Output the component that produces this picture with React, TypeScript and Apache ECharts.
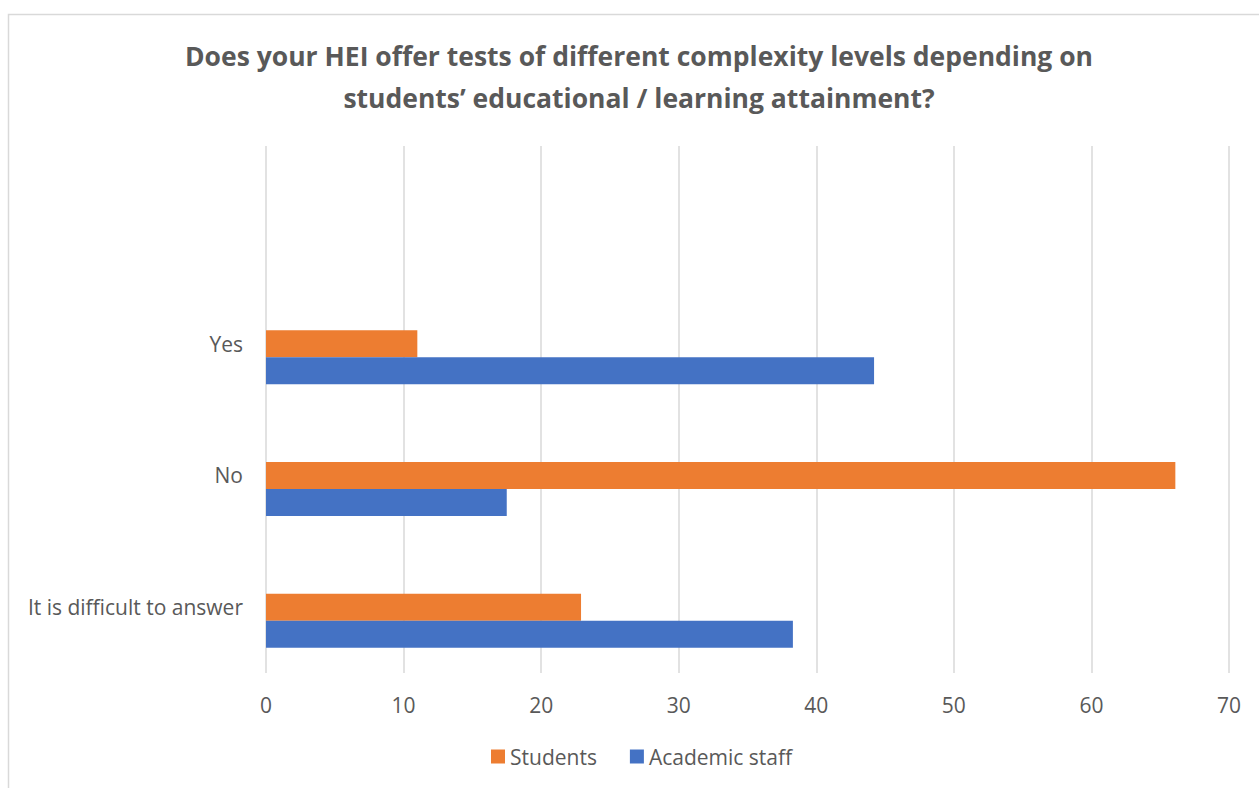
import React, { useEffect, useRef } from "react";
import * as echarts from "echarts";

const categories = ["It is difficult to answer", "No", "Yes", ""];
const students = [22.9, 66.1, 11.0, null];
const academicStaff = [38.3, 17.5, 44.2, null];
const blank = [null, null, null, null];
const xTicks = { min: 0, max: 70, interval: 10 };
const titleText =
  "Does your HEI offer tests of different complexity levels depending on\nstudents’ educational / learning attainment?";

const FONT = "'Open Sans', 'Liberation Sans', sans-serif";
const GREY = "#595959";

export default function App() {
  const ref = useRef<HTMLDivElement>(null);
  useEffect(() => {
    if (!ref.current) return;
    const chart = echarts.init(ref.current, undefined, { renderer: "svg" });
    chart.setOption({
      animation: false,
      backgroundColor: "#ffffff",
      textStyle: { fontFamily: FONT },
      graphic: [
        {
          type: "rect",
          shape: { x: 8.5, y: 14.5, width: 1300, height: 900 },
          style: { fill: "none", stroke: "#d9d9d9", lineWidth: 1.5 },
          silent: true,
        },
        {
          type: "text",
          x: 639,
          y: 35,
          silent: true,
          style: {
            text: titleText,
            fill: GREY,
            fontFamily: FONT,
            fontSize: 26.5,
            fontWeight: "bold",
            lineHeight: 42,
            align: "center",
            verticalAlign: "top",
          },
        },
      ],
      legend: {
        data: ["Students", "Academic staff"],
        left: 486,
        top: 741,
        icon: "rect",
        itemWidth: 14,
        itemHeight: 14,
        itemGap: 33,
        textStyle: { fontFamily: FONT, fontSize: 21, color: GREY },
      },
      grid: { left: 266, right: 30, top: 146, bottom: 115, containLabel: false },
      xAxis: {
        type: "value",
        min: xTicks.min,
        max: xTicks.max,
        interval: xTicks.interval,
        axisLine: { show: false },
        axisTick: { show: false },
        splitLine: { lineStyle: { color: "#d9d9d9", width: 1.5 } },
        axisLabel: { color: GREY, fontSize: 21, fontFamily: FONT, margin: 21 },
      },
      yAxis: {
        type: "category",
        data: categories,
        axisLine: { show: false },
        axisTick: { show: false },
        splitLine: { show: false },
        axisLabel: { color: GREY, fontSize: 21, fontFamily: FONT, margin: 23 },
      },
      series: [
        {
          name: "blank",
          type: "bar",
          data: blank,
          barWidth: 27,
          barGap: "0%",
        },
        {
          name: "Students",
          type: "bar",
          data: students,
          barWidth: 27,
          barGap: "0%",
          itemStyle: { color: "#ED7D31" },
        },
        {
          name: "Academic staff",
          type: "bar",
          data: academicStaff,
          barWidth: 27,
          barGap: "0%",
          itemStyle: { color: "#4472C4" },
        },
      ],
    });
    return () => chart.dispose();
  }, []);
  return (
    <div
      ref={ref}
      style={{ position: "fixed", left: 0, top: 0, width: 1259, height: 788 }}
    />
  );
}
